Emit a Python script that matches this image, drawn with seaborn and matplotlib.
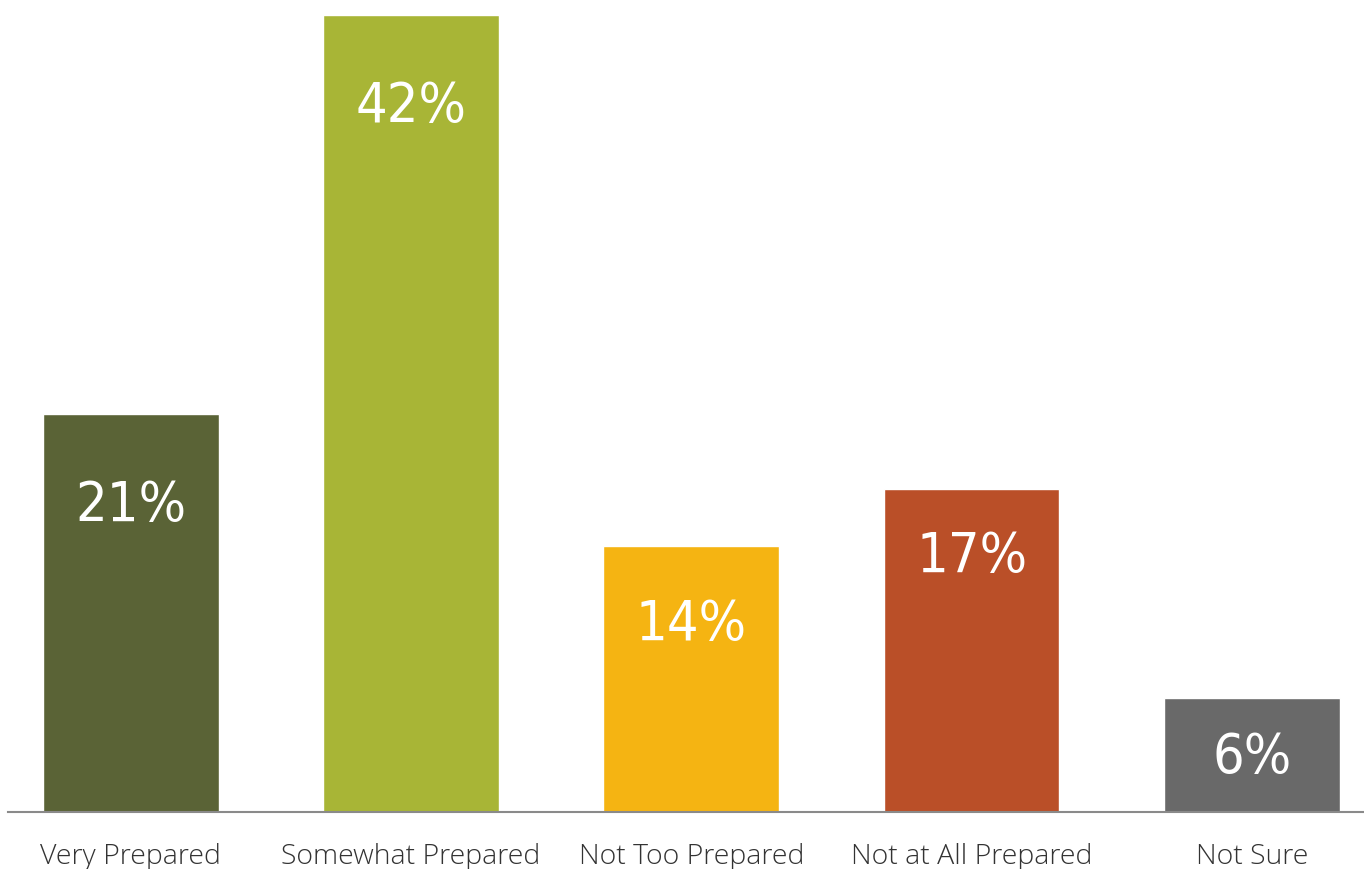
import matplotlib
matplotlib.use("Agg")
import matplotlib.pyplot as plt
import seaborn as sns
import pandas as pd

categories = ["Very Prepared", "Somewhat Prepared", "Not Too Prepared",
              "Not at All Prepared", "Not Sure"]
values = [21, 42, 14, 17, 6]
colors = ["#5A6336", "#A8B536", "#F5B412", "#BA4F28", "#696969"]
# distance of each value label below its bar top, in pixels
label_drop_px = [92, 92, 79, 68, 60]

sns.set_theme(style="white")
plt.rcParams["font.family"] = ["Open Sans", "DejaVu Sans"]

W, H, DPI = 1364, 869, 100
fig = plt.figure(figsize=(W / DPI, H / DPI), dpi=DPI)
ax = fig.add_axes([8 / W, 57 / H, 1 - 8 / W, 812 / H])

df = pd.DataFrame({"category": categories, "value": values})
sns.barplot(data=df, x="category", y="value", hue="category",
            palette=colors, width=0.627, legend=False, ax=ax, saturation=1)

ymax = 812 / 18.976
ax.set_xlim(-0.438, 4.4)
ax.set_ylim(0, ymax)
px_per_unit = 812 / ymax

for i, (v, d) in enumerate(zip(values, label_drop_px)):
    ax.text(i, v - d / px_per_unit, f"{v}%", ha="center", va="center",
            color="white", fontsize=40, family=["Liberation Sans Narrow", "DejaVu Sans"],
            fontstretch="condensed", fontweight="light")

for s in ["top", "right", "left"]:
    ax.spines[s].set_visible(False)
ax.spines["bottom"].set_color("#8a8a8a")
ax.spines["bottom"].set_linewidth(1.5)
ax.set_yticks([])
ax.set_xlabel("")
ax.set_ylabel("")
ax.tick_params(axis="x", length=0, pad=22, labelsize=20.5, labelcolor="#333333")
for t in ax.get_xticklabels():
    t.set_fontweight("light")

fig.savefig("out.png", dpi=DPI, facecolor="white")
